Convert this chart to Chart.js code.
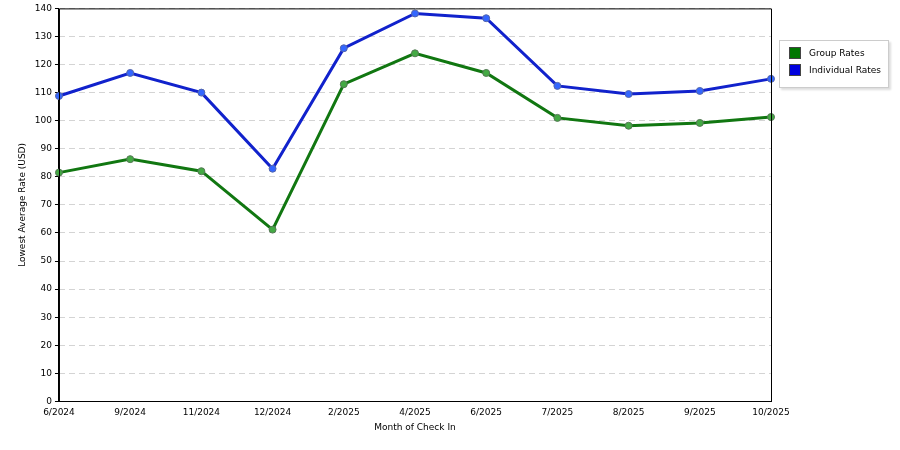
<!DOCTYPE html>
<html><head><meta charset="utf-8">
<script src="https://cdn.jsdelivr.net/npm/chart.js@4"></script>
<style>
body{margin:0;background:#fff;font-family:"DejaVu Sans",sans-serif}
#wrap{position:relative;width:900px;height:450px}
#legend{position:absolute;left:779px;top:40px;width:108px;height:46px;border:1px solid #ccc;font-size:9px;box-shadow:2px 2px 2px #ddd;background:#fff}
.it{display:flex;align-items:center;height:14px;margin:5px 0 0 9px}
.sw{width:12px;height:12px;margin-right:8px;border:1px solid #444;box-sizing:border-box}
</style></head><body>
<div id="wrap"><canvas id="c" width="900" height="450"></canvas>
<div id="legend"><div class="it"><span class="sw" style="background:#007700"></span>Group Rates</div><div class="it" style="margin-top:3px"><span class="sw" style="background:#0000dd"></span>Individual Rates</div></div></div>
<script>
const months=["6/2024","9/2024","11/2024","12/2024","2/2025","4/2025","6/2025","7/2025","8/2025","9/2025","10/2025"];
const groupRates=[81.5,86.3,82,61.2,113,124,117,101,98.2,99.2,101.3];
const individualRates=[108.8,117,110,82.9,125.8,138.2,136.5,112.4,109.5,110.6,114.9];
Chart.defaults.font.family='"DejaVu Sans",sans-serif';
Chart.defaults.font.size=9;
Chart.defaults.color='#000';
new Chart(document.getElementById('c'),{type:'line',
data:{labels:months,datasets:[
{label:'Group Rates',data:groupRates,borderColor:'#117711',backgroundColor:'#44aa44',pointBorderColor:'#557755',borderWidth:3,pointRadius:3.5,pointBorderWidth:1,tension:0},
{label:'Individual Rates',data:individualRates,borderColor:'#1122cc',backgroundColor:'#3366ff',pointBorderColor:'#5566aa',borderWidth:3,pointRadius:3.5,pointBorderWidth:1,tension:0}]},
options:{responsive:false,animation:false,layout:{padding:{top:0,right:129,left:13,bottom:13}},
plugins:{legend:{display:false},tooltip:{enabled:false}},
scales:{x:{offset:false,grid:{display:false,tickLength:4},border:{color:'#000'},ticks:{maxRotation:0,padding:2},title:{display:true,text:'Month of Check In',padding:{top:2}}},
y:{min:0,max:140,ticks:{stepSize:10,padding:3},grid:{color:'#d4d4d4',tickLength:4,tickColor:'#000'},border:{color:'#000',dash:[6,4]},title:{display:true,text:'Lowest Average Rate (USD)'}}}},
plugins:[{id:'frame',afterDatasetsDraw(ch){const a=ch.chartArea,x=ch.ctx;x.save();x.strokeStyle='#000';x.lineWidth=1;x.beginPath();x.moveTo(a.left+.5,a.bottom);x.lineTo(a.left+.5,a.top+.5);x.lineTo(a.right+.5,a.top+.5);x.lineTo(a.right+.5,a.bottom);x.stroke();x.restore();}}]
});
</script></body></html>
